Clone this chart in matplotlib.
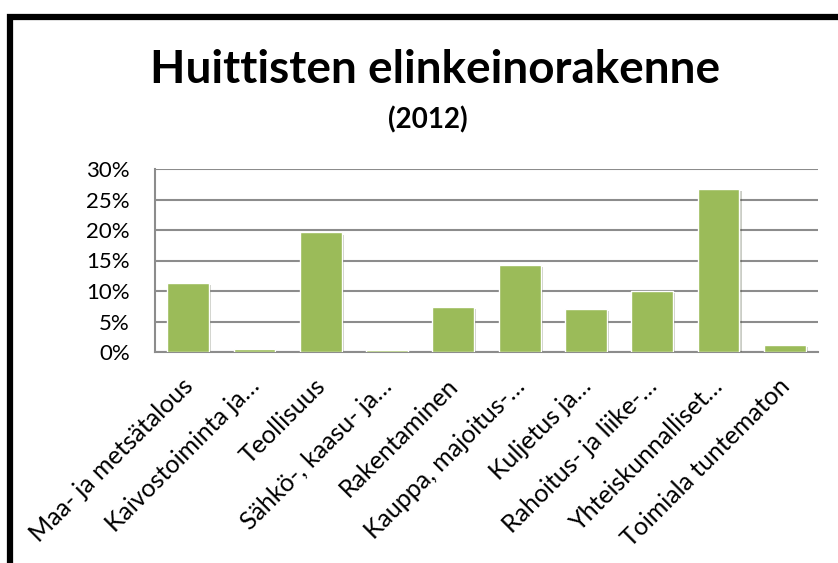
import matplotlib
matplotlib.use("Agg")
import matplotlib.pyplot as plt
import matplotlib.patches as mpatches
import matplotlib.patheffects as pe
import matplotlib.transforms as mtransforms
from matplotlib.ticker import FuncFormatter

# toimialat (lyhennetyt nimet kuten alkuperäisessä kaaviossa)
categories = ['Maa- ja metsätalous', 'Kaivostoiminta ja…', 'Teollisuus',
              'Sähkö-, kaasu- ja…', 'Rakentaminen', 'Kauppa, majoitus-…',
              'Kuljetus ja…', 'Rahoitus- ja liike-…', 'Yhteiskunnalliset…',
              'Toimiala tuntematon']
shares = [11.3, 0.45, 19.6, 0.4, 7.4, 14.3, 7.0, 10.0, 26.7, 1.1]
yticks = [0, 5, 10, 15, 20, 25, 30]

title = 'Huittisten elinkeinorakenne'
subtitle = '(2012)'

plt.rcParams['font.family'] = ['Lato', 'DejaVu Sans']

W, H = 838, 563
fig = plt.figure(figsize=(W / 100, H / 100), dpi=100)

# kaavion kehys (vasen ja yläreuna näkyvät)
frame = mpatches.Rectangle((10 / W, -0.2), 1.2, (1 - 17 / H) + 0.2,
                           transform=fig.transFigure, fill=False,
                           edgecolor='black', linewidth=4.5, clip_on=False)
fig.patches.append(frame)

ax = fig.add_axes([155 / W, 1 - 352 / H, (818 - 155) / W, (352 - 169) / H])

x = range(len(categories))
bars = ax.bar(x, shares, width=0.63, color='#9BBB59', edgecolor='white',
              linewidth=1.0, zorder=3)
for b in bars:
    b.set_path_effects([pe.SimplePatchShadow(offset=(1.5, -1.5), alpha=0.25),
                        pe.Normal()])

ax.set_xlim(-0.5, len(categories) - 0.5)
ax.set_ylim(0, 30)
ax.set_yticks(yticks)
ax.yaxis.set_major_formatter(FuncFormatter(lambda v, p: '%d%%' % v))
ax.grid(axis='y', color='#8c8c8c', linewidth=1.5, zorder=0)
ax.set_axisbelow(True)

for s in ['top', 'right']:
    ax.spines[s].set_visible(False)
for s in ['left', 'bottom']:
    ax.spines[s].set_color('#8c8c8c')
    ax.spines[s].set_linewidth(1.5)

ax.tick_params(axis='y', length=0, pad=18, labelsize=16)
ax.tick_params(axis='x', length=0, pad=16)
ax.set_xticks(list(x))
ax.set_xticklabels(categories, rotation=45, ha='right', va='top',
                   rotation_mode='anchor', fontsize=18)
shift = mtransforms.ScaledTranslation(-7 / 100, 0, fig.dpi_scale_trans)
for lbl in ax.get_xticklabels():
    lbl.set_transform(lbl.get_transform() + shift)

fig.text(435 / W, 1 - 83 / H, title, ha='center', va='baseline',
         fontsize=33, fontweight='bold')
fig.text(428 / W, 1 - 128 / H, subtitle, ha='center', va='baseline',
         fontsize=20, fontweight='bold')

fig.savefig('out.png', dpi=100)
